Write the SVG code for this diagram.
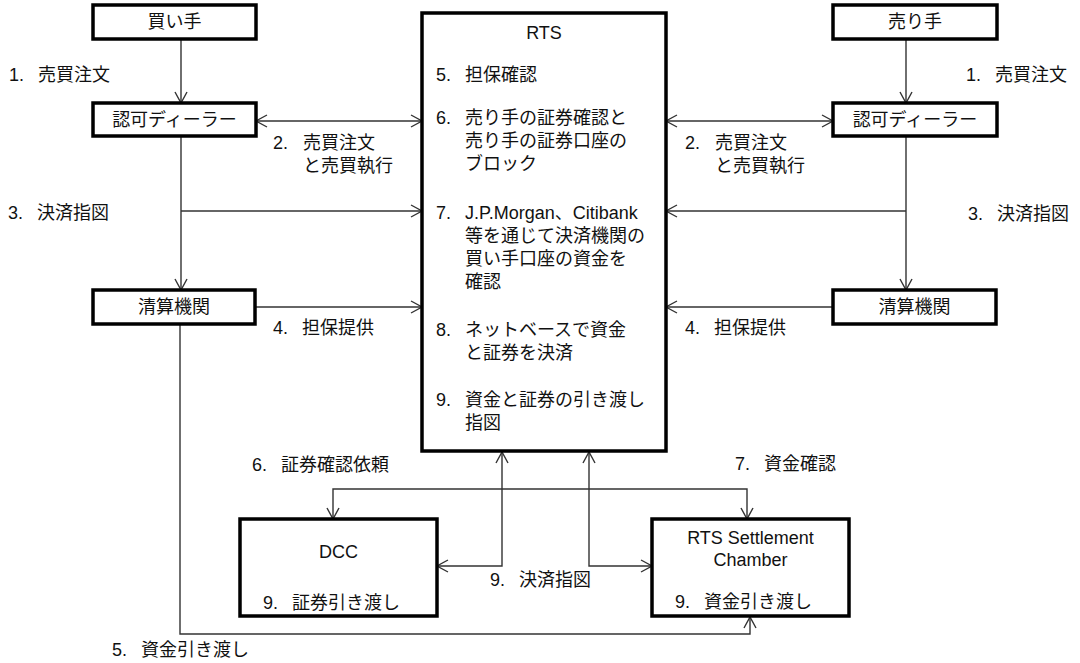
<svg xmlns="http://www.w3.org/2000/svg" width="1080" height="663" viewBox="0 0 1080 663">
<style>
text{font-family:"Liberation Sans","Noto Sans CJK JP",sans-serif;font-size:18px;fill:#111}
.box{fill:#fff;stroke:#000;stroke-width:3.5}
.c{text-anchor:middle}
.ln{fill:none;stroke:#333;stroke-width:1.4}
.a1{marker-end:url(#ah)}
.a2{marker-start:url(#ah);marker-end:url(#ah)}
</style>
<defs>
<marker id="ah" markerUnits="userSpaceOnUse" markerWidth="14" markerHeight="14" refX="11" refY="6" orient="auto-start-reverse" viewBox="-1 -1 14 14">
<path d="M0,0 L11,6 L0,12" fill="none" stroke="#333" stroke-width="1.4"/>
</marker>
</defs>
<rect width="1080" height="663" fill="#fff"/>

<g id="connectors">
<path class="ln a1" d="M181,39 V103"/>
<path class="ln a2" d="M256,121 H422"/>
<path class="ln a1" d="M181,136 V290"/>
<path class="ln a1" d="M181,211 H422"/>
<path class="ln a1" d="M255,307 H422"/>
<path class="ln a1" d="M180,324 V634 H750 V617"/>
<path class="ln a1" d="M906,39 V103"/>
<path class="ln a2" d="M666,121 H833"/>
<path class="ln a1" d="M906,136 V290"/>
<path class="ln a1" d="M906,211 H666"/>
<path class="ln a1" d="M833,307 H666"/>
<path class="ln a2" d="M437,566 H502 V452"/>
<path class="ln a2" d="M589,452 V566 H652"/>
<path class="ln a2" d="M333,519 V489 H747 V519"/>
</g>

<g id="buyer"><rect class="box" x="93" y="5" width="163" height="34"/><text class="c" x="174.5" y="28">買い手</text></g>
<g id="dealer-left"><rect class="box" x="93" y="103" width="163" height="33"/><text class="c" x="174.5" y="126">認可ディーラー</text></g>
<g id="clearing-left"><rect class="box" x="93" y="290" width="162" height="34"/><text class="c" x="174" y="313">清算機関</text></g>
<g id="seller"><rect class="box" x="833" y="5" width="164" height="34"/><text class="c" x="915" y="28">売り手</text></g>
<g id="dealer-right"><rect class="box" x="833" y="103" width="164" height="33"/><text class="c" x="915" y="126">認可ディーラー</text></g>
<g id="clearing-right"><rect class="box" x="833" y="290" width="163" height="34"/><text class="c" x="914.5" y="313">清算機関</text></g>

<g id="rts">
<rect class="box" x="422" y="13" width="244" height="438"/>
<text class="c" x="544" y="39">RTS</text>
<text x="436" y="81">5.<tspan x="465">担保確認</tspan></text>
<text x="436" y="124">6.<tspan x="465">売り手の証券確認と</tspan></text>
<text x="465" y="147">売り手の証券口座の</text>
<text x="465" y="170">ブロック</text>
<text x="436" y="219">7.<tspan x="465">J.P.Morgan、Citibank</tspan></text>
<text x="465" y="242">等を通じて決済機関の</text>
<text x="465" y="265">買い手口座の資金を</text>
<text x="465" y="288">確認</text>
<text x="436" y="336">8.<tspan x="465">ネットベースで資金</tspan></text>
<text x="465" y="359">と証券を決済</text>
<text x="436" y="406">9.<tspan x="465">資金と証券の引き渡し</tspan></text>
<text x="465" y="429">指図</text>
</g>

<g id="dcc">
<rect class="box" x="240" y="519" width="197" height="97"/>
<text class="c" x="338.5" y="558">DCC</text>
<text x="263" y="609">9.<tspan x="292">証券引き渡し</tspan></text>
</g>

<g id="settlement">
<rect class="box" x="652" y="519" width="197" height="97"/>
<text class="c" x="750.5" y="544">RTS Settlement</text>
<text class="c" x="750.5" y="566">Chamber</text>
<text x="675" y="608">9.<tspan x="704">資金引き渡し</tspan></text>
</g>

<g id="labels">
<text x="9" y="81">1.<tspan x="38">売買注文</tspan></text>
<text x="966" y="81">1.<tspan x="995">売買注文</tspan></text>
<text x="273" y="149">2.<tspan x="303">売買注文</tspan></text>
<text x="303" y="172">と売買執行</text>
<text x="685" y="149">2.<tspan x="715">売買注文</tspan></text>
<text x="715" y="172">と売買執行</text>
<text x="8" y="219">3.<tspan x="37">決済指図</tspan></text>
<text x="968" y="220">3.<tspan x="997">決済指図</tspan></text>
<text x="273" y="334">4.<tspan x="302">担保提供</tspan></text>
<text x="685" y="334">4.<tspan x="714">担保提供</tspan></text>
<text x="112" y="656">5.<tspan x="141">資金引き渡し</tspan></text>
<text x="252" y="471">6.<tspan x="281">証券確認依頼</tspan></text>
<text x="735" y="470">7.<tspan x="764">資金確認</tspan></text>
<text x="490" y="586">9.<tspan x="519">決済指図</tspan></text>
</g>
</svg>
